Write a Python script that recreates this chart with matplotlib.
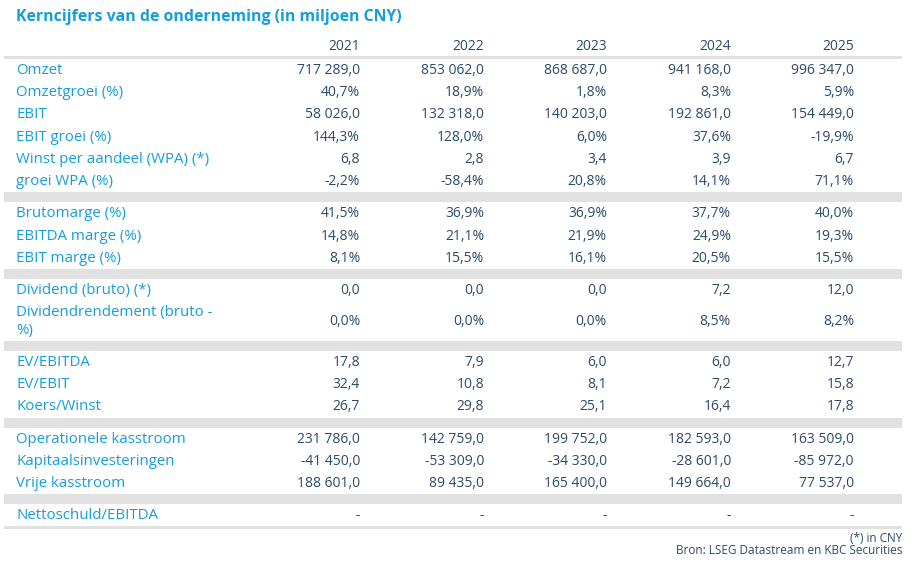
import matplotlib
matplotlib.use("Agg")
import matplotlib.pyplot as plt

plt.rcParams["font.family"] = ["Open Sans", "DejaVu Sans"]

BLUE = "#169ddb"
NAVY = "#2d4a6b"
GREY = "#e1e1e1"

title = "Kerncijfers van de onderneming (in miljoen CNY)"
years = ["2021", "2022", "2023", "2024", "2025"]

# groups of rows: (label, values per year)
group1_labels = ["Omzet", "Omzetgroei (%)", "EBIT", "EBIT groei (%)",
                 "Winst per aandeel (WPA) (*)", "groei WPA (%)"]
group1_values = [
    ["717 289,0", "853 062,0", "868 687,0", "941 168,0", "996 347,0"],
    ["40,7%", "18,9%", "1,8%", "8,3%", "5,9%"],
    ["58 026,0", "132 318,0", "140 203,0", "192 861,0", "154 449,0"],
    ["144,3%", "128,0%", "6,0%", "37,6%", "-19,9%"],
    ["6,8", "2,8", "3,4", "3,9", "6,7"],
    ["-2,2%", "-58,4%", "20,8%", "14,1%", "71,1%"],
]
group2_labels = ["Brutomarge (%)", "EBITDA marge (%)", "EBIT marge (%)"]
group2_values = [
    ["41,5%", "36,9%", "36,9%", "37,7%", "40,0%"],
    ["14,8%", "21,1%", "21,9%", "24,9%", "19,3%"],
    ["8,1%", "15,5%", "16,1%", "20,5%", "15,5%"],
]
group3_labels = ["Dividend (bruto) (*)", "Dividendrendement (bruto -\n%)"]
group3_values = [
    ["0,0", "0,0", "0,0", "7,2", "12,0"],
    ["0,0%", "0,0%", "0,0%", "8,5%", "8,2%"],
]
group4_labels = ["EV/EBITDA", "EV/EBIT", "Koers/Winst"]
group4_values = [
    ["17,8", "7,9", "6,0", "6,0", "12,7"],
    ["32,4", "10,8", "8,1", "7,2", "15,8"],
    ["26,7", "29,8", "25,1", "16,4", "17,8"],
]
group5_labels = ["Operationele kasstroom", "Kapitaalsinvesteringen", "Vrije kasstroom"]
group5_values = [
    ["231 786,0", "142 759,0", "199 752,0", "182 593,0", "163 509,0"],
    ["-41 450,0", "-53 309,0", "-34 330,0", "-28 601,0", "-85 972,0"],
    ["188 601,0", "89 435,0", "165 400,0", "149 664,0", "77 537,0"],
]
group6_labels = ["Nettoschuld/EBITDA"]
group6_values = [["-", "-", "-", "-", "-"]]

footnotes = ["(*) in CNY", "Bron: LSEG Datastream en KBC Securities"]

groups = [
    (group1_labels, group1_values),
    (group2_labels, group2_values),
    (group3_labels, group3_values),
    (group4_labels, group4_values),
    (group5_labels, group5_values),
    (group6_labels, group6_values),
]

# layout in pixels
W, H = 918, 577
X0, X1 = 4, 902
LABEL_X = 16
COL_X = [360, 484, 607, 731, 854]
ROW_H = 22.2
ROW_H2 = 40
BAND_H = 10
FS_LAB = 10.8
FS_VAL = 10

fig = plt.figure(figsize=(W / 100, H / 100), dpi=100)
ax = fig.add_axes([0, 0, 1, 1])
ax.set_xlim(0, W)
ax.set_ylim(H, 0)
ax.axis("off")

ax.text(LABEL_X, 17, title, color=BLUE, fontsize=11.4, fontweight="bold",
        ha="left", va="center")
for x, yr in zip(COL_X, years):
    ax.text(x, 46, yr, color=NAVY, fontsize=FS_VAL, ha="right", va="center")
ax.axhspan(56, 59, xmin=X0 / W, xmax=X1 / W, color=GREY, lw=0)

y = 59
for gi, (labels, values) in enumerate(groups):
    if gi > 0:
        ax.axhspan(y, y + BAND_H, xmin=X0 / W, xmax=X1 / W, color=GREY, lw=0)
        y += BAND_H
    for lab, vals in zip(labels, values):
        h = ROW_H if "\n" not in lab else ROW_H2
        yc = y + h / 2
        ax.text(LABEL_X, yc + 0.5, lab, color=BLUE, fontsize=FS_LAB, ha="left",
                va="center", linespacing=1.25)
        for x, v in zip(COL_X, vals):
            ax.text(x, yc + 0.5, v, color=NAVY, fontsize=FS_VAL, ha="right",
                    va="center")
        y += h

ax.axhspan(y, y + 3, xmin=X0 / W, xmax=X1 / W, color=GREY, lw=0)

ax.text(X1, 538, footnotes[0], color=NAVY, fontsize=8.5, ha="right", va="center")
ax.text(X1, 551, footnotes[1], color=NAVY, fontsize=8.5, ha="right", va="center")

fig.savefig("out.png", dpi=100)
